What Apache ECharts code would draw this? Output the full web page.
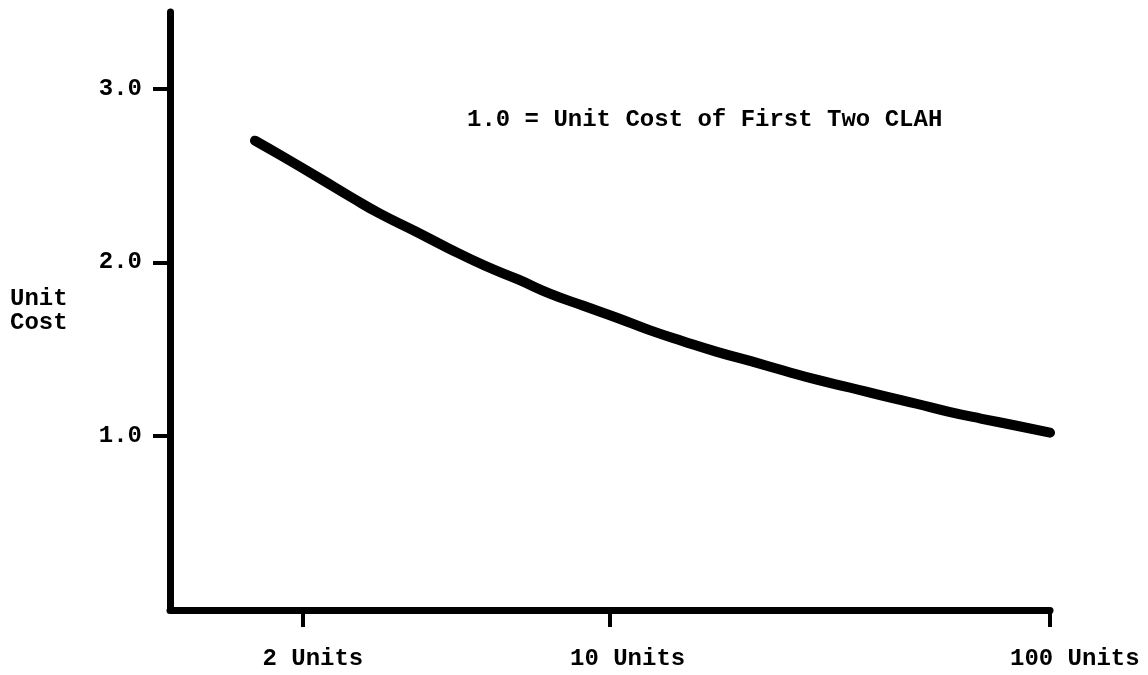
<!DOCTYPE html>
<html>
<head>
<meta charset="utf-8">
<script src="https://cdn.jsdelivr.net/npm/echarts@6/dist/echarts.min.js"></script>
<style>
  html, body { margin: 0; padding: 0; background: #ffffff; }
  #chart { width: 1148px; height: 675px; }
</style>
</head>
<body>
<div id="chart"></div>
<script>
// Quantity produced (units, log scale) and relative unit cost
const units = [1.56, 1.8, 2.2, 2.6, 3.0, 3.6, 4.3, 5.2, 6.2, 7.3, 8.7, 10.4, 12.3, 14.7,
               17.5, 21, 25, 29.5, 35, 42, 50, 59, 70, 84, 100];
const unitCost = [2.70, 2.61, 2.48, 2.37, 2.28, 2.18, 2.08, 1.98, 1.90, 1.82, 1.75, 1.68, 1.61, 1.545,
                  1.485, 1.43, 1.375, 1.325, 1.28, 1.23, 1.185, 1.14, 1.10, 1.06, 1.02];

// Axis tick positions and their labels
const xTicks = [2, 10, 100];
const xTickLabels = { 2: '2 Units', 10: '10 Units', 100: '100 Units' };
const yTicks = [1, 2, 3];

const note = '1.0 = Unit Cost of First Two CLAH';

const FONT = '"Liberation Mono", "Courier New", monospace';
const INK = '#000000';

const chart = echarts.init(document.getElementById('chart'), null, { renderer: 'canvas' });

chart.setOption({
  backgroundColor: '#ffffff',
  animation: false,
  grid: { left: 170, right: 98, top: 12, bottom: 65 },
  xAxis: {
    type: 'log',
    logBase: 10,
    min: 1,
    max: 100,
    axisLine: { show: true, lineStyle: { color: INK, width: 7, cap: 'round' } },
    axisTick: {
      show: true, inside: false, length: 17,
      customValues: xTicks,
      lineStyle: { color: INK, width: 4 }
    },
    axisLabel: {
      show: true,
      customValues: xTicks,
      formatter: v => xTickLabels[Math.round(v)] || '',
      align: 'left',
      padding: [0, 0, 0, -40],
      margin: 37,
      color: INK,
      fontFamily: FONT,
      fontWeight: 'bold',
      fontSize: 24
    },
    splitLine: { show: false },
    minorTick: { show: false },
    minorSplitLine: { show: false }
  },
  yAxis: {
    type: 'value',
    min: 0,
    max: 3.44,
    name: 'Unit\nCost',
    nameLocation: 'middle',
    nameRotate: 0,
    nameGap: 160,
    nameTextStyle: {
      color: INK, fontFamily: FONT, fontWeight: 'bold', fontSize: 24, lineHeight: 24,
      align: 'left', verticalAlign: 'middle', padding: [0, 0, 18, 0]
    },
    axisLine: { show: true, lineStyle: { color: INK, width: 7, cap: 'round' } },
    axisTick: {
      show: true, inside: false, length: 17,
      customValues: yTicks,
      lineStyle: { color: INK, width: 4 }
    },
    axisLabel: {
      show: true,
      customValues: yTicks,
      formatter: v => v.toFixed(1),
      margin: 28,
      padding: [0, 0, 14, 0],
      verticalAlign: 'middle',
      color: INK,
      fontFamily: FONT,
      fontWeight: 'bold',
      fontSize: 24
    },
    splitLine: { show: false }
  },
  graphic: [{
    type: 'text',
    left: 467,
    top: 108,
    style: { text: note, fill: INK, font: 'bold 24px ' + FONT }
  }],
  series: [{
    type: 'line',
    data: units.map((u, i) => [u, unitCost[i]]),
    smooth: 0.5,
    showSymbol: false,
    clip: false,
    lineStyle: { color: INK, width: 10, cap: 'round', join: 'round' }
  }]
});
</script>
</body>
</html>
